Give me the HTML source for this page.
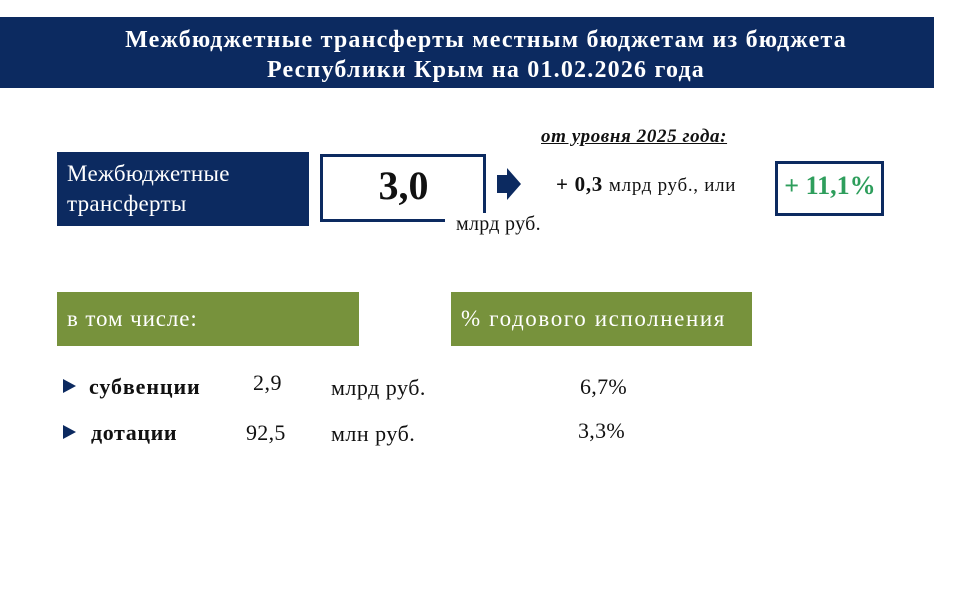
<!DOCTYPE html>
<html><head><meta charset="utf-8"><style>
body{margin:0;width:960px;height:600px;background:#fff;position:relative;overflow:hidden;font-family:"Liberation Serif","DejaVu Serif",serif;color:#111}
div{position:absolute}
.t{white-space:nowrap}
</style></head><body>
<div style="left:0;top:17px;width:934px;height:71px;background:#0c2a60"></div>
<div class="t" style="left:0;top:25px;width:972px;text-align:center;color:#fff;font-weight:bold;font-size:24px;letter-spacing:1.2px;line-height:30px">Межбюджетные трансферты местным бюджетам из бюджета<br>Республики Крым на 01.02.2026 года</div>
<div class="t" style="left:541px;top:126px;font-size:19px;letter-spacing:0.6px;font-style:italic;font-weight:bold;text-decoration:underline">от уровня 2025 года:</div>
<div style="left:57px;top:152px;width:252px;height:74px;background:#0c2a60"></div>
<div class="t" style="left:67px;top:159px;color:#fff;font-size:23px;letter-spacing:0.3px;line-height:30px">Межбюджетные<br>трансферты</div>
<div style="left:320px;top:154px;width:160px;height:62px;border:3px solid #0c2a60;background:#fff"></div>
<div class="t" style="left:322px;top:162px;width:163px;text-align:center;font-size:40px;font-weight:bold">3,0</div>
<div style="left:445px;top:213px;width:115px;height:30px;background:#fff"></div>
<div class="t" style="left:456px;top:213px;font-size:20px;letter-spacing:0.3px">млрд руб.</div>
<div style="left:497px;top:175px;width:10px;height:18px;background:#0c2a60"></div>
<div style="left:507px;top:168px;width:0;height:0;border-top:16px solid transparent;border-bottom:16px solid transparent;border-left:14px solid #0c2a60"></div>
<div class="t" style="left:556px;top:172px;font-size:21px;letter-spacing:0.7px"><b>+ 0,3</b> <span style="font-size:19px">млрд руб., или</span></div>
<div style="left:775px;top:161px;width:103px;height:49px;border:3px solid #0c2a60"></div>
<div class="t" style="left:776px;top:171px;width:108px;text-align:center;font-size:26px;font-weight:bold;color:#2e9e5c">+ 11,1%</div>
<div style="left:57px;top:292px;width:302px;height:54px;background:#77923c"></div>
<div class="t" style="left:67px;top:306px;color:#fff;font-size:23px;letter-spacing:0.9px">в том числе:</div>
<div style="left:451px;top:292px;width:301px;height:54px;background:#77923c"></div>
<div class="t" style="left:461px;top:306px;color:#fff;font-size:23px;letter-spacing:1.6px">% годового исполнения</div>
<div style="left:63px;top:379px;border-top:7px solid transparent;border-bottom:7px solid transparent;border-left:13px solid #0c2a60"></div>
<div style="left:63px;top:425px;border-top:7px solid transparent;border-bottom:7px solid transparent;border-left:13px solid #0c2a60"></div>
<div class="t" style="left:89px;top:374px;font-size:22px;letter-spacing:0.9px;font-weight:bold">субвенции</div>
<div class="t" style="left:253px;top:370px;font-size:22px;letter-spacing:0.5px">2,9</div>
<div class="t" style="left:331px;top:375px;font-size:22px;letter-spacing:0.5px">млрд руб.</div>
<div class="t" style="left:580px;top:374px;font-size:22px;letter-spacing:0.3px">6,7%</div>
<div class="t" style="left:91px;top:420px;font-size:22px;letter-spacing:0.6px;font-weight:bold">дотации</div>
<div class="t" style="left:246px;top:420px;font-size:22px;letter-spacing:0.3px">92,5</div>
<div class="t" style="left:331px;top:421px;font-size:22px;letter-spacing:0.5px">млн руб.</div>
<div class="t" style="left:578px;top:418px;font-size:22px;letter-spacing:0.3px">3,3%</div>
</body></html>
